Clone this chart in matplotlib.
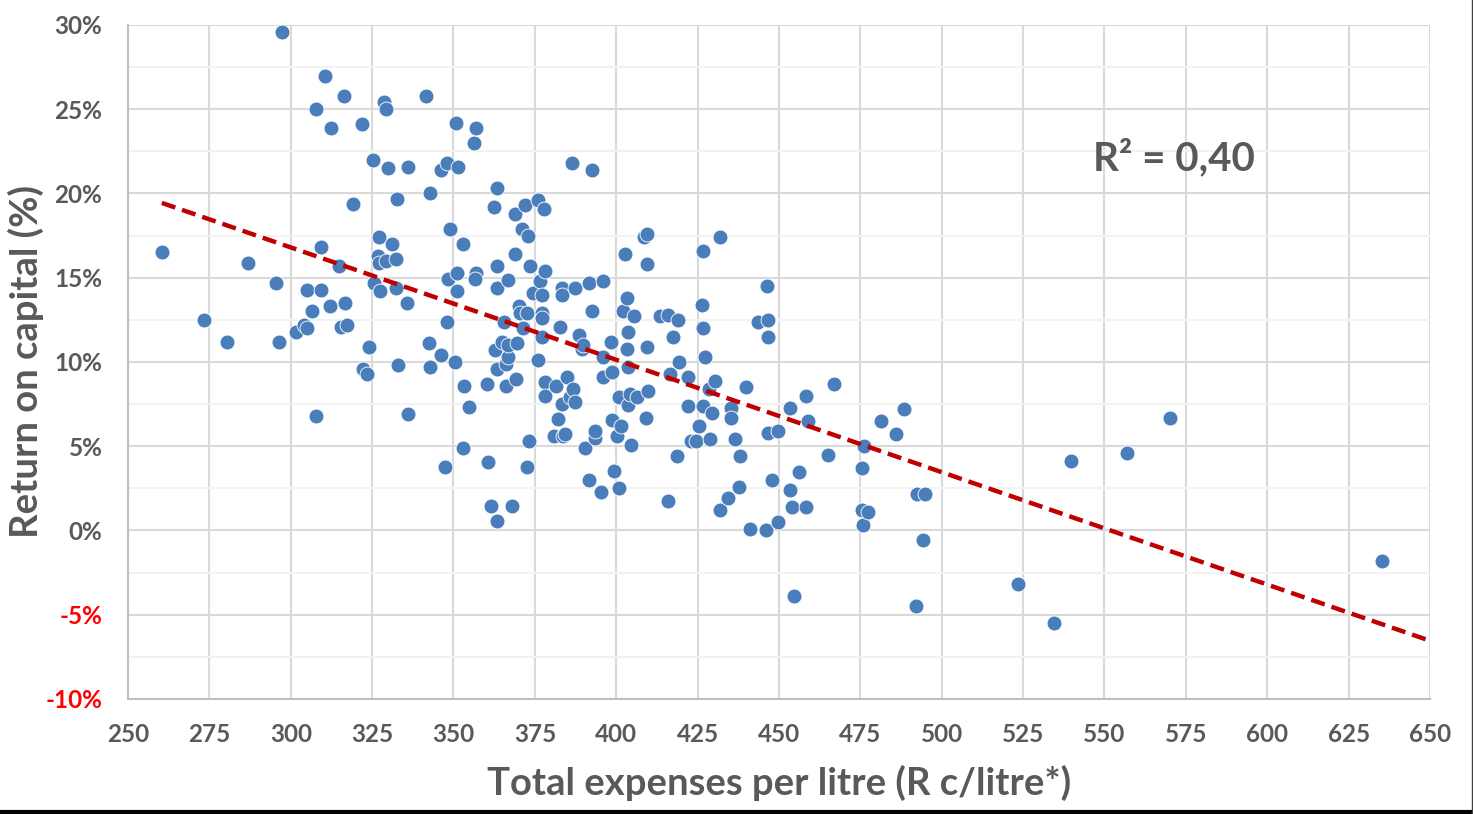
import numpy as np
import matplotlib.pyplot as plt
from matplotlib.ticker import MultipleLocator, FuncFormatter
from matplotlib.lines import Line2D

plt.rcParams['font.family'] = ['Lato', 'DejaVu Sans']

# total expenses per litre (R c/litre) and return on capital (%) per farm
expenses = [
    260.4, 273.3, 280.4, 286.9, 295.5, 297.3, 296.4, 301.6, 304.1, 305.0,
    305.0, 306.5, 307.8, 307.8, 309.3, 309.3, 310.5, 312.0, 312.4, 314.8,
    315.4, 316.4, 316.7, 317.3, 319.1, 321.9, 322.2, 323.4, 324.0, 325.3,
    325.6, 327.1, 326.8, 327.1, 327.4, 328.6, 329.3, 329.3, 329.9, 331.1,
    332.3, 332.6, 332.3, 332.9, 335.7, 336.0, 336.0, 341.6, 342.9, 342.6,
    342.7, 346.3, 346.3, 348.0, 347.3, 348.1, 348.2, 348.9,
    350.9, 351.5, 350.5, 351.0, 351.0, 352.8, 352.8, 353.2, 354.9, 356.4,
    356.9, 356.9, 356.6, 360.2, 360.7, 361.5, 362.3, 362.7, 363.3, 363.3,
    363.3, 363.3, 363.3, 364.8, 365.5, 366.0, 366.6, 366.1, 366.6, 366.8,
    367.9, 368.9, 368.9, 369.2, 369.6, 370.1, 370.4, 370.9, 371.2, 372.0,
    372.5, 372.7, 372.8, 373.3, 373.5, 374.5, 376.1, 376.1, 376.6, 377.1,
    377.1, 377.1, 377.3, 377.9, 378.1, 378.1, 378.1,
    380.9, 381.5, 382.2, 382.7, 383.2, 383.2, 383.2, 383.7, 384.3, 384.8,
    385.8, 386.5, 386.8, 387.3, 387.3, 388.6, 389.4, 389.7, 390.4, 391.7,
    391.7, 392.4, 392.4, 393.5, 393.6, 395.3, 396.0, 396.0, 396.0, 398.3,
    398.8, 398.8, 399.3,
    400.1, 400.8, 400.9, 401.5, 402.2, 402.7, 403.4, 403.4, 403.5, 403.5,
    403.7, 404.2, 404.5, 405.6, 406.5, 408.5, 409.5, 409.3, 409.3, 409.8,
    409.0, 413.4, 415.8, 416.0, 416.5, 417.5, 418.7, 418.9, 419.4, 422.1,
    422.1, 423.0, 424.5,
    425.5, 426.2, 426.5, 426.5, 426.7, 427.4, 428.6, 428.8, 429.3, 430.3,
    431.9, 431.9, 434.4, 435.4, 435.4, 436.5, 437.8, 438.0, 440.0, 441.1,
    443.6, 446.0, 446.2, 446.7, 446.7, 446.7, 447.9, 449.8, 449.8,
    453.4, 453.4, 454.0, 454.7, 456.2, 458.3, 458.4, 458.8, 465.0, 466.9,
    475.4, 475.6, 475.9, 476.2, 477.4, 481.2, 485.8, 488.4, 492.1, 492.3,
    494.9, 494.3, 523.5, 534.5, 539.8, 556.8, 570.1, 635.3,
]
roc = [
    16.5, 12.5, 11.2, 15.9, 14.7, 29.6, 11.2, 11.8, 12.2, 12.0,
    14.3, 13.0, 6.8, 25.0, 14.3, 16.8, 27.0, 13.3, 23.9, 15.7,
    12.1, 25.8, 13.5, 12.2, 19.4, 24.1, 9.6, 9.3, 10.9, 22.0,
    14.7, 17.4, 16.3, 15.9, 14.2, 25.4, 25.0, 16.0, 21.5, 17.0,
    14.4, 19.7, 16.1, 9.8, 13.5, 6.9, 21.6, 25.8, 20.0, 11.1,
    9.7, 10.4, 21.4, 21.8, 3.75, 12.4, 14.9, 17.9,
    24.2, 21.6, 10.0, 15.3, 14.2, 17.0, 4.9, 8.6, 7.3, 23.0,
    23.9, 15.3, 14.9, 8.7, 4.05, 1.45, 19.2, 10.7, 20.3, 15.7,
    14.4, 9.6, 0.55, 11.2, 12.4, 9.9, 10.3, 8.6, 14.85, 11.0,
    1.45, 18.8, 16.4, 9.0, 11.1, 13.3, 12.9, 17.9, 12.0, 19.3,
    3.75, 12.9, 17.5, 5.3, 15.7, 14.1, 19.6, 10.1, 14.8, 12.9,
    12.6, 11.5, 14.0, 19.1, 15.4, 8.8, 8.0,
    5.6, 8.6, 6.6, 12.1, 14.4, 14.0, 7.5, 5.6, 5.7, 9.1,
    7.9, 21.8, 8.4, 14.4, 7.6, 11.6, 10.8, 11.0, 4.9, 14.7,
    3.0, 21.4, 13.0, 5.5, 5.9, 2.3, 14.8, 10.3, 9.1, 11.2,
    9.4, 6.55, 3.55,
    5.6, 7.9, 2.5, 6.2, 13.0, 16.4, 13.8, 10.8, 9.7, 7.45,
    11.8, 8.1, 5.1, 12.7, 7.9, 17.4, 17.6, 15.8, 10.9, 8.3,
    6.7, 12.7, 1.75, 12.8, 9.3, 11.5, 4.45, 12.5, 10.0, 9.1,
    7.4, 5.3, 5.3,
    6.2, 13.4, 16.6, 7.4, 12.0, 10.3, 8.4, 5.4, 6.95, 8.9,
    17.4, 1.2, 1.9, 7.25, 6.7, 5.4, 2.6, 4.4, 8.5, 0.1,
    12.4, 0.0, 14.5, 12.5, 11.5, 5.8, 3.0, 5.9, 0.5,
    7.25, 2.4, 1.4, -3.9, 3.5, 8.0, 1.4, 6.5, 4.5, 8.7,
    1.2, 3.7, 0.3, 5.0, 1.1, 6.5, 5.7, 7.2, -4.5, 2.15,
    2.15, -0.55, -3.2, -5.5, 4.1, 4.6, 6.7, -1.8,
]

# linear trend line of the full sample
trend_slope = -0.0667
trend_intercept = 36.81
r_squared = 0.40

x = np.array(expenses)
y = np.array(roc)

fig = plt.figure(figsize=(14.73, 8.14), dpi=100)
ax = fig.add_axes([0.0869, 0.1413, 0.8839, 0.828])

ax.scatter(x, y, s=115, color='#4A7EBB', edgecolors='white', linewidths=0.6, zorder=3)

xt = np.array([x.min(), 650])
ax.plot(xt, trend_slope * xt + trend_intercept, color='#C00000', lw=3.2,
        ls=(0, (3.2, 1.6)), zorder=4, dash_capstyle='butt')

ax.set_xlim(250, 650)
ax.set_ylim(-10, 30)
ax.xaxis.set_major_locator(MultipleLocator(25))
ax.yaxis.set_major_locator(MultipleLocator(5))
ax.yaxis.set_minor_locator(MultipleLocator(2.5))
ax.yaxis.set_major_formatter(FuncFormatter(lambda v, p: f'{v:.0f}%'))

ax.grid(which='major', color='#D9D9D9', lw=1.5, zorder=0)
ax.grid(which='minor', axis='y', color='#F2F2F2', lw=1.5, zorder=0)
ax.set_axisbelow(True)

for side in ['top', 'right']:
    ax.spines[side].set_visible(False)
for side in ['left', 'bottom']:
    ax.spines[side].set_color('#BFBFBF')
    ax.spines[side].set_linewidth(1.5)

ax.tick_params(which='both', length=0)
ax.tick_params(axis='x', pad=17, labelsize=17.5, labelcolor='#595959')
ax.tick_params(axis='y', pad=18.5, labelsize=17.5, labelcolor='#595959')
for lbl in ax.get_xticklabels() + ax.get_yticklabels():
    lbl.set_fontweight('bold')
for lbl, v in zip(ax.get_yticklabels(), ax.get_yticks()):
    if v < 0:
        lbl.set_color('#FF0000')

ax.set_xlabel('Total expenses per litre (R c/litre*)', fontsize=27.5, fontweight='bold',
              color='#595959', labelpad=14)
ax.set_ylabel('Return on capital (%)', fontsize=27.5, fontweight='bold',
              color='#595959', labelpad=1)

ax.text(0.803, 0.803, f'R² = {r_squared:.2f}'.replace('.', ','), transform=ax.transAxes,
        ha='center', va='center', fontsize=29, fontweight='bold', color='#595959')

# frame edges along the bottom and right of the image
fig.add_artist(Line2D([0, 1], [0.002, 0.002], color='black', lw=3, transform=fig.transFigure))
fig.add_artist(Line2D([0.999, 0.999], [0, 1], color='#404040', lw=1, transform=fig.transFigure))

fig.savefig('out.png', dpi=100)
